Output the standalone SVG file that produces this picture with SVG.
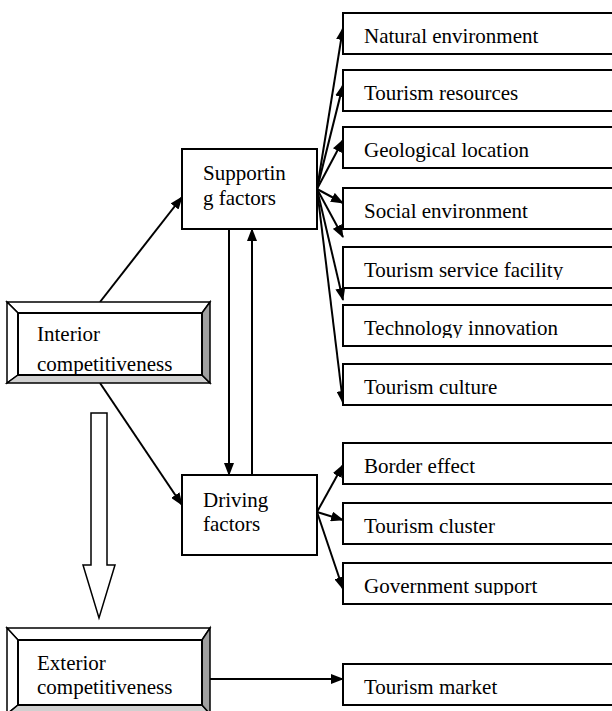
<svg xmlns="http://www.w3.org/2000/svg" width="612" height="711" viewBox="0 0 612 711">
<style>
text{font-family:"Liberation Serif","Times New Roman",serif;font-size:21px;fill:#000}
.box{fill:#fff;stroke:#000;stroke-width:2}
.ln{stroke:#000;stroke-width:2;fill:none}
.bw{fill:#fff;stroke:#000;stroke-width:1.5;stroke-linejoin:miter}
.bl{fill:#d0d0d0;stroke:#000;stroke-width:1.5}
.bd{fill:#a0a0a0;stroke:#000;stroke-width:1.5}
</style>
<defs>
<marker id="ah" markerUnits="userSpaceOnUse" markerWidth="13" markerHeight="10" refX="12" refY="5" orient="auto">
<path d="M0,0 L13,5 L0,10 z" fill="#000"/>
</marker>
<clipPath id="c5"><rect x="343" y="247" width="270" height="33"/></clipPath>
<clipPath id="c6"><rect x="343" y="305" width="270" height="33"/></clipPath>
<clipPath id="c10"><rect x="343" y="563" width="270" height="32"/></clipPath>
<clipPath id="ci"><rect x="18" y="313" width="184" height="62"/></clipPath>
<clipPath id="ce"><rect x="18" y="640" width="184" height="65"/></clipPath>
</defs>

<g id="connectors">
<line class="ln" x1="100" y1="302" x2="182" y2="197" marker-end="url(#ah)"/>
<line class="ln" x1="100" y1="383" x2="182" y2="505" marker-end="url(#ah)"/>
<line class="ln" x1="229" y1="229" x2="229" y2="475" marker-end="url(#ah)"/>
<line class="ln" x1="252" y1="475" x2="252" y2="229" marker-end="url(#ah)"/>
<line class="ln" x1="317" y1="189" x2="343" y2="28" marker-end="url(#ah)"/>
<line class="ln" x1="317" y1="189" x2="343" y2="85" marker-end="url(#ah)"/>
<line class="ln" x1="317" y1="189" x2="343" y2="140" marker-end="url(#ah)"/>
<line class="ln" x1="317" y1="189" x2="343" y2="203" marker-end="url(#ah)"/>
<line class="ln" x1="317" y1="189" x2="343" y2="237" marker-end="url(#ah)"/>
<line class="ln" x1="317" y1="189" x2="343" y2="300" marker-end="url(#ah)"/>
<line class="ln" x1="317" y1="189" x2="343" y2="403" marker-end="url(#ah)"/>
<line class="ln" x1="317" y1="512" x2="343" y2="465" marker-end="url(#ah)"/>
<line class="ln" x1="317" y1="512" x2="343" y2="520" marker-end="url(#ah)"/>
<line class="ln" x1="317" y1="512" x2="343" y2="589" marker-end="url(#ah)"/>
<line class="ln" x1="210" y1="679" x2="343" y2="679" marker-end="url(#ah)"/>
<polygon class="bw" points="91,413 107,413 107,565 115,565 99,618 83,565 91,565"/>
</g>

<g id="interior">
<polygon class="bw" points="7,302 210,302 202,313 18,313"/>
<polygon class="bw" points="7,302 18,313 18,375 7,383"/>
<polygon class="bl" points="7,383 18,375 202,375 210,383"/>
<polygon class="bd" points="210,302 202,313 202,375 210,383"/>
<rect x="18" y="313" width="184" height="62" fill="#fff" stroke="#000" stroke-width="2"/>
<g clip-path="url(#ci)"><text x="37" y="341">Interior</text><text x="37" y="371">competitiveness</text></g>
</g>

<g id="exterior">
<polygon class="bw" points="7,628 210,628 202,640 18,640"/>
<polygon class="bw" points="7,628 18,640 18,705 7,714"/>
<polygon class="bl" points="7,714 18,705 202,705 210,714"/>
<polygon class="bd" points="210,628 202,640 202,705 210,714"/>
<rect x="18" y="640" width="184" height="65" fill="#fff" stroke="#000" stroke-width="2"/>
<g clip-path="url(#ce)"><text x="37" y="670">Exterior</text><text x="37" y="694">competitiveness</text></g>
</g>

<g id="supporting">
<rect class="box" x="182" y="149" width="135" height="80"/>
<text x="203" y="180">Supportin</text><text x="203" y="205">g factors</text>
</g>

<g id="driving">
<rect class="box" x="182" y="475" width="135" height="80"/>
<text x="203" y="507">Driving</text><text x="203" y="531">factors</text>
</g>

<g id="natural"><rect class="box" x="343" y="13" width="280" height="41"/><text x="364" y="43">Natural environment</text></g>
<g id="resources"><rect class="box" x="343" y="70" width="280" height="41"/><text x="364" y="100">Tourism resources</text></g>
<g id="geological"><rect class="box" x="343" y="127" width="280" height="41"/><text x="364" y="157">Geological location</text></g>
<g id="social"><rect class="box" x="343" y="188" width="280" height="41"/><text x="364" y="218">Social environment</text></g>
<g id="service"><rect class="box" x="343" y="247" width="280" height="41"/><text x="364" y="277" clip-path="url(#c5)">Tourism service facility</text></g>
<g id="technology"><rect class="box" x="343" y="305" width="280" height="41"/><text x="364" y="335" clip-path="url(#c6)">Technology innovation</text></g>
<g id="culture"><rect class="box" x="343" y="364" width="280" height="41"/><text x="364" y="394">Tourism culture</text></g>
<g id="border"><rect class="box" x="343" y="443" width="280" height="41"/><text x="364" y="473">Border effect</text></g>
<g id="cluster"><rect class="box" x="343" y="503" width="280" height="41"/><text x="364" y="533">Tourism cluster</text></g>
<g id="government"><rect class="box" x="343" y="563" width="280" height="41"/><text x="364" y="593" clip-path="url(#c10)">Government support</text></g>
<g id="market"><rect class="box" x="343" y="664" width="280" height="41"/><text x="364" y="694">Tourism market</text></g>
</svg>
